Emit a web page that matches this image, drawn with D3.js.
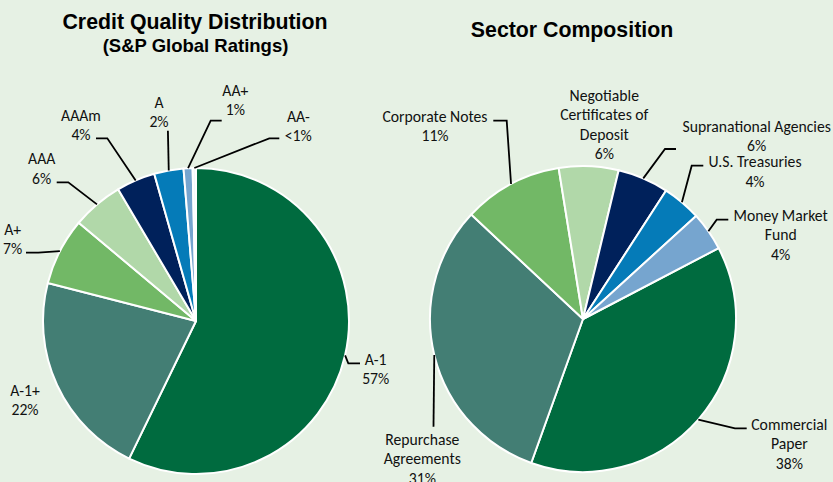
<!DOCTYPE html>
<html><head><meta charset="utf-8">
<script src="https://cdn.jsdelivr.net/npm/d3@7"></script>
<style>
html,body{margin:0;padding:0;background:#E6F1E4;}
svg{display:block;}
</style></head>
<body>
<svg id="chart" width="833" height="482"></svg>
<script>
// ---- data ----
const creditCategories = ["A-1","A-1+","A+","AAA","AAAm","A","AA+","AA-"];
const creditValues = [57.2,21.8,7.1,5.4,4.1,3.1,0.95,0.35];
const creditLabels = [["A-1","57%"],["A-1+","22%"],["A+","7%"],["AAA","6%"],["AAAm","4%"],["A","2%"],["AA+","1%"],["AA-","<1%"]];

const sectorCategories = ["Commercial Paper","Repurchase Agreements","Corporate Notes","Negotiable Certificates of Deposit","Supranational Agencies","U.S. Treasuries","Money Market Fund"];
const sectorValues = [38.2,31.5,10.5,6.3,5.4,4.1,4.1];
const sectorLabels = [["Commercial","Paper","38%"],["Repurchase","Agreements","31%"],["Corporate Notes","11%"],["Negotiable","Certificates of","Deposit","6%"],["Supranational Agencies","6%"],["U.S. Treasuries","4%"],["Money Market","Fund","4%"]];

// ---- styles / layout ----
const creditColors = ["#006B3F","#437E74","#72B866","#B1D8A9","#00215B","#057BB8","#76A5CF","#F4F8FC"];
const sectorColors = ["#006B3F","#437E74","#72B866","#B1D8A9","#00215B","#057BB8","#76A5CF"];
const R = 153;
const leftC = {x:196, y:321}, rightC = {x:583, y:319};

// label layout: text center x, first-line center y; leader elbow + end points (null = no leader)
const creditLayout = [
  {x:375.7, y:359.3, pts:[[348.3,363.3],[360,363.3]]},
  {x:25, y:390.3, pts:null},
  {x:12.7, y:229.3, pts:[[38.3,252.7],[26,252.7]]},
  {x:41.7, y:159, pts:[[68.3,182.3],[56.7,182.3]]},
  {x:81, y:115.7, pts:[[107.3,138.3],[96,138.3]]},
  {x:159, y:102.3, pts:[[167.9,130.7]]},
  {x:235.3, y:90.7, pts:[[210.7,120.7],[221.7,120.7]]},
  {x:298.3, y:116.7, pts:[[269.3,138.3],[279.3,138.3]]}
];
const sectorLayout = [
  {x:789.3, y:424.3, pts:[[735,428.3],[746.7,428.3]]},
  {x:422.3, y:439.3, pts:[[433.5,426.7]]},
  {x:435, y:116.3, pts:[[506.7,120.7],[493.3,120.7]]},
  {x:604.3, y:95.7, pts:null},
  {x:756.7, y:126.3, pts:[[665,149],[676,149]]},
  {x:755, y:162, pts:[[691.7,165.7],[703.3,165.7]]},
  {x:780.7, y:215.3, pts:[[716.7,219.7],[728.3,219.7]]}
];

const svg = d3.select("#chart");
svg.append("rect").attr("width",833).attr("height",482).attr("fill","#E6F1E4");

const titleFont = "'Liberation Sans', Arial, sans-serif";
const labelFont = "Carlito, Lato, sans-serif";

svg.append("text").attr("x",195).attr("y",29).attr("text-anchor","middle")
  .attr("font-family",titleFont).attr("font-weight","bold").attr("font-size",21.3).attr("fill","#000")
  .text("Credit Quality Distribution");
svg.append("text").attr("x",195.5).attr("y",52).attr("text-anchor","middle")
  .attr("font-family",titleFont).attr("font-weight","bold").attr("font-size",18.5).attr("fill","#000")
  .text("(S&P Global Ratings)");
svg.append("text").attr("x",572).attr("y",37).attr("text-anchor","middle")
  .attr("font-family",titleFont).attr("font-weight","bold").attr("font-size",21.3).attr("fill","#000")
  .text("Sector Composition");

function drawPie(center, values, colors, labels, layout, startDeg){
  const a0 = startDeg*Math.PI/180;
  const pie = d3.pie().sort(null).value(d=>d).startAngle(a0).endAngle(a0+2*Math.PI);
  const arcs = pie(values);
  const arc = d3.arc().innerRadius(0).outerRadius(R);
  const g = svg.append("g").attr("transform",`translate(${center.x},${center.y})`);
  g.selectAll("path").data(arcs).join("path")
    .attr("d",arc).attr("fill",(d,i)=>colors[i])
    .attr("stroke","#fff").attr("stroke-width",2).attr("stroke-linejoin","round");

  arcs.forEach((a,i)=>{
    const L = layout[i];
    if(L.pts){
      const mid = (a.startAngle+a.endAngle)/2;
      const p0 = [center.x + R*Math.sin(mid), center.y - R*Math.cos(mid)];
      svg.append("polyline")
        .attr("points",[p0].concat(L.pts).map(p=>p.join(",")).join(" "))
        .attr("fill","none").attr("stroke","#000").attr("stroke-width",1.8);
    }
    const t = svg.append("text").attr("text-anchor","middle")
      .attr("font-family",labelFont).attr("font-size",15.7).attr("fill","#111");
    labels[i].forEach((line,k)=>{
      t.append("tspan").attr("x",L.x).attr("y",L.y + k*19.5 + 5.2).text(line);
    });
  });
}

drawPie(leftC, creditValues, creditColors, creditLabels, creditLayout, 0);
drawPie(rightC, sectorValues, sectorColors, sectorLabels, sectorLayout, 62.4);
</script>
</body></html>
